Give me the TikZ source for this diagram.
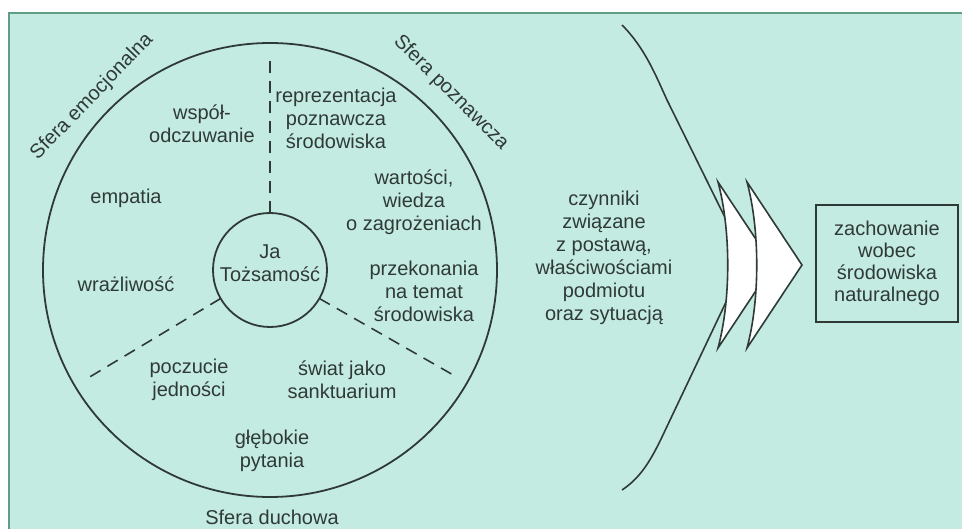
\documentclass[tikz,border=0pt]{standalone}
\usepackage{fontspec}
\setmainfont{Liberation Sans}
\definecolor{bg}{HTML}{C4EBE2}
\definecolor{framec}{HTML}{5E9E84}
\definecolor{ink}{HTML}{2F3A37}
\begin{document}
\begin{tikzpicture}[x=1pt,y=-1pt,
  lbl/.style={align=center, font=\fontsize{20}{23}\selectfont, text=ink, inner sep=0pt},
  ring/.style={circle, draw=ink, line width=1.8pt, inner sep=0pt, outer sep=0pt},
  divider/.style={draw=ink, line width=1.6pt, dash pattern=on 12pt off 8pt},
  chevron/.style={draw=ink, fill=white, line width=1.6pt, line join=miter},
  bracket/.style={draw=ink, line width=1.6pt},
  resultbox/.style={draw=ink, line width=1.8pt, minimum width=142pt, minimum height=117pt, inner sep=0pt}]
\useasboundingbox (0,0) rectangle (962,529);
\fill[white] (0,0) rectangle (962,529);
\fill[bg] (9,13) rectangle (962,529);
\draw[framec, line width=2pt] (9,529) -- (9,13) -- (962,13);

% circles
\node[ring, minimum size=454pt] (outer) at (270,270) {};
\node[ring, minimum size=114pt] (ja) at (270,270) {};

% dividers
\coordinate (dtop) at (270,55);
\coordinate (dleft) at (88,378);
\coordinate (dright) at (455,376);
\draw[divider] (ja.90) -- (dtop);
\draw[divider] (ja.210) -- (dleft);
\draw[divider] (ja.330) -- (dright);

% sphere labels
\node[lbl, rotate=46] (semo) at (92,97) {Sfera emocjonalna};
\node[lbl, rotate=-45] (spoz) at (451,93) {Sfera poznawcza};
\node[lbl] (sduch) at (272,517) {Sfera duchowa};

% inner texts
\node[lbl] (jatxt) at (270,263) {Ja\\Tożsamość};
\node[lbl] (wspol) at (202,124) {współ-\\odczuwanie};
\node[lbl] (empat) at (126,198) {empatia};
\node[lbl] (wrazl) at (126,284) {wrażliwość};
\node[lbl] (repr) at (336,118) {reprezentacja\\poznawcza\\środowiska};
\node[lbl] (wart) at (414,202) {wartości,\\wiedza\\o zagrożeniach};
\node[lbl] (przek) at (424,291) {przekonania\\na temat\\środowiska};
\node[lbl] (poczu) at (189,380) {poczucie\\jedności};
\node[lbl] (swiat) at (342,380) {świat jako\\sanktuarium};
\node[lbl] (glebo) at (272,451) {głębokie\\pytania};

% factors
\node[lbl] (czyn) at (604,258) {czynniki\\związane\\z postawą,\\właściwościami\\podmiotu\\oraz sytuacją};

% bracket
\coordinate (btop) at (622,25);
\coordinate (bmid1) at (745,258);
\coordinate (bmid2) at (745,262);
\coordinate (bbot) at (622,490);
\draw[bracket] (btop) .. controls (645,48) and (656,76) .. (667,100) -- (bmid1);
\draw[bracket] (bmid2) -- (662,437) .. controls (650,462) and (640,478) .. (bbot);

% chevrons
\draw[chevron] (718,182) -- (773,265) -- (718,348) .. controls (731,300) and (731,230) .. cycle;
\draw[chevron] (747,182) -- (802,265) -- (747,348) .. controls (760,300) and (760,230) .. cycle;

% result box
\node[resultbox, lbl, font=\fontsize{20}{22}\selectfont] (wynik) at (887,263.5) {zachowanie\\wobec\\środowiska\\naturalnego};
\end{tikzpicture}
\end{document}
